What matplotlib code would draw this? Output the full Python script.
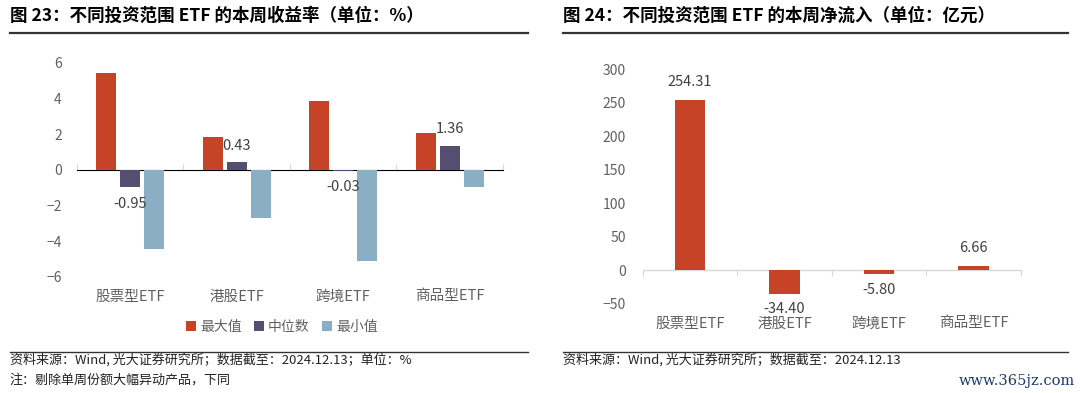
import numpy as np
import matplotlib
matplotlib.use('Agg')
import matplotlib.pyplot as plt
from matplotlib.lines import Line2D

plt.rcParams['font.family'] = ['Noto Sans CJK SC', 'DejaVu Sans']

# 数据
categorias = ['股票型ETF', '港股ETF', '跨境ETF', '商品型ETF']
series_izq = ['最大值', '中位数', '最小值']
maximo = [5.43, 1.87, 3.88, 2.10]
mediana = [-0.95, 0.43, -0.03, 1.36]
minimo = [-4.45, -2.71, -5.11, -0.96]
flujo = [254.31, -34.40, -5.80, 6.66]

y_ticks_izq = [-6, -4, -2, 0, 2, 4, 6]
y_ticks_der = [-50, 0, 50, 100, 150, 200, 250, 300]

rojo = '#C64327'
morado = '#554E70'
azul = '#8AAFC4'
gris = '#606060'
linea_eje = '#D9D9D9'

fig = plt.figure(figsize=(10.8, 3.93), dpi=100)


def preparar_eje(ax, ylim, yticks, pad_y):
    ax.set_xlim(-0.5, len(categorias) - 0.5)
    ax.set_ylim(*ylim)
    for s in ax.spines.values():
        s.set_visible(False)
    ax.set_yticks(yticks)
    ax.tick_params(axis='y', length=0, pad=pad_y, labelsize=10, labelcolor=gris)
    ax.set_xticks(np.arange(len(categorias)))
    ax.set_xticklabels(categorias)
    ax.tick_params(axis='x', length=0, pad=9, labelsize=10.5, labelcolor=gris)
    # linea del cero con marcas entre categorias
    pos0 = (0 - ylim[0]) / (ylim[1] - ylim[0])
    sec = ax.secondary_xaxis(pos0)
    sec.spines['bottom'].set_color(linea_eje)
    sec.spines['bottom'].set_linewidth(1.0)
    sec.set_xticks(np.arange(-0.5, len(categorias), 1.0))
    sec.tick_params(axis='x', direction='out', length=4, color=linea_eje,
                    labelbottom=False, labeltop=False)


# ---- grafico izquierdo ----
ax1 = fig.add_axes([0.0713, 0.2952, 0.3944, 0.5445])
preparar_eje(ax1, (-6, 6), y_ticks_izq, 11)
x = np.arange(len(categorias))
paso = 0.225
ancho = 0.19
ax1.bar(x - paso, maximo, ancho, color=rojo, label=series_izq[0], zorder=3)
ax1.bar(x, mediana, ancho, color=morado, label=series_izq[1], zorder=3)
ax1.bar(x + paso, minimo, ancho, color=azul, label=series_izq[2], zorder=3)

for xi, v in zip(x, mediana):
    off = 12 if v >= 0 else -12
    ax1.annotate('%.2f' % v, (xi, v), xytext=(0, off), textcoords='offset points',
                 ha='center', va='center', fontsize=10.5, color='#404040')

ax1.legend(loc='center', bbox_to_anchor=(0.261, 0.168), bbox_transform=fig.transFigure,
           ncol=3, frameon=False, fontsize=10, handlelength=0.7, handleheight=0.7,
           handletextpad=0.3, columnspacing=0.9, labelcolor=gris)

# ---- grafico derecho ----
ax2 = fig.add_axes([0.5951, 0.2265, 0.35, 0.5972])
preparar_eje(ax2, (-50, 300), y_ticks_der, 12)
ax2.bar(x, flujo, 0.325, color=rojo, zorder=3)
for xi, v in zip(x, flujo):
    off = 13 if v >= 0 else -11.5
    ax2.annotate('%.2f' % v, (xi, v), xytext=(0, off), textcoords='offset points',
                 ha='center', va='center', fontsize=10.5, color='#404040')

# ---- titulos, lineas y notas ----
fig.text(10 / 1080, 1 - 16 / 393, '图 23：不同投资范围 ETF 的本周收益率（单位：%）',
         fontsize=12.6, fontweight='bold', va='center', ha='left', color='black')
fig.text(563 / 1080, 1 - 16 / 393, '图 24：不同投资范围 ETF 的本周净流入（单位：亿元）',
         fontsize=12.6, fontweight='bold', va='center', ha='left', color='black')

for x0, x1 in [(10, 528), (563, 1068)]:
    fig.add_artist(Line2D([x0 / 1080, x1 / 1080], [1 - 33 / 393] * 2,
                          transform=fig.transFigure, color='#333333', lw=1.6))
    fig.add_artist(Line2D([x0 / 1080, x1 / 1080], [1 - 352 / 393] * 2,
                          transform=fig.transFigure, color='#333333', lw=1.0))

fig.text(10 / 1080, 1 - 360 / 393, '资料来源：Wind, 光大证券研究所；数据截至：2024.12.13；单位：%',
         fontsize=9.4, va='center', ha='left', color='#222222')
fig.text(10 / 1080, 1 - 380 / 393, '注：剔除单周份额大幅异动产品，下同',
         fontsize=9.4, va='center', ha='left', color='#222222')
fig.text(563 / 1080, 1 - 360 / 393, '资料来源：Wind, 光大证券研究所；数据截至：2024.12.13',
         fontsize=9.4, va='center', ha='left', color='#222222')
fig.text(1075 / 1080, 1 - 381 / 393, 'www.365jz.com', fontsize=10.5, va='center',
         ha='right', color='#1F3A6E', family='DejaVu Serif')

fig.savefig('out.png', dpi=100)
